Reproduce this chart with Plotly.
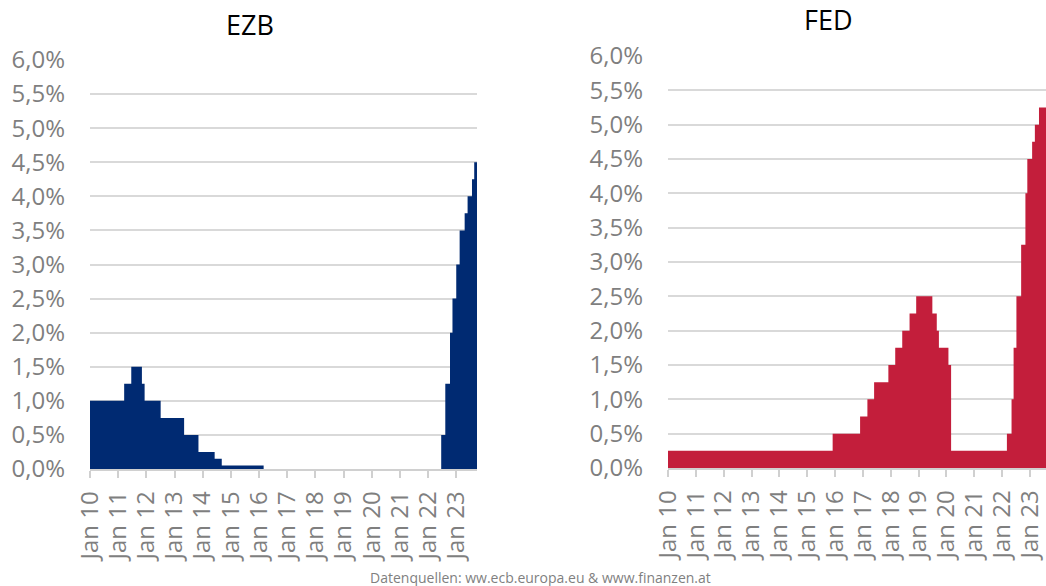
import plotly.graph_objects as go

# ---- data ----
ezb_dates = ["2010-01-01", "2011-03-20", "2011-06-20", "2011-11-05", "2011-12-10",
             "2012-07-05", "2013-05-05", "2013-11-07", "2014-06-05", "2014-09-05",
             "2016-03-01", "2022-06-20", "2022-08-12", "2022-10-12", "2022-11-13",
             "2023-01-01", "2023-02-14", "2023-04-20", "2023-05-28", "2023-07-24",
             "2023-08-22", "2023-09-27"]
ezb_rates = [1.00, 1.25, 1.50, 1.25, 1.00,
             0.75, 0.50, 0.25, 0.15, 0.05,
             0.00, 0.50, 1.25, 2.00, 2.50,
             3.00, 3.50, 3.75, 4.00, 4.25,
             4.50, 4.50]

fed_dates = ["2010-01-01", "2015-12-01", "2016-11-25", "2017-03-01", "2017-05-28",
             "2017-12-01", "2018-03-01", "2018-06-01", "2018-09-05", "2018-12-01",
             "2019-07-01", "2019-08-28", "2019-09-25", "2020-01-28", "2020-03-03",
             "2022-03-05", "2022-05-05", "2022-06-01", "2022-07-08", "2022-09-08",
             "2022-11-03", "2022-11-28", "2023-01-30", "2023-03-07", "2023-04-30",
             "2023-07-31"]
fed_rates = [0.25, 0.50, 0.75, 1.00, 1.25,
             1.50, 1.75, 2.00, 2.25, 2.50,
             2.25, 2.00, 1.75, 1.50, 0.25,
             0.50, 1.00, 1.75, 2.50, 3.25,
             4.00, 4.50, 4.75, 5.00, 5.25,
             5.25]

x_tickvals = [f"{y}-01-01" for y in range(2010, 2024)]
x_ticktext = [f"Jan {y % 100:02d}" for y in range(2010, 2024)]
y_tickvals = [i * 0.5 for i in range(13)]
y_ticktext = ["0,0%", "0,5%", "1,0%", "1,5%", "2,0%", "2,5%", "3,0%",
              "3,5%", "4,0%", "4,5%", "5,0%", "5,5%", "6,0%"]

EZB_COLOR = "#002a72"
FED_COLOR = "#c31e3b"
FONT = "Open Sans"
GRAY = "#7f7f7f"

W, H = 1046, 586

def px(x):
    return x / W

def py(y):
    return 1 - y / H

fig = go.Figure()
fig.add_trace(go.Scatter(x=ezb_dates, y=ezb_rates, mode="lines", line=dict(shape="hv", width=0, color=EZB_COLOR),
                         fill="tozeroy", fillcolor=EZB_COLOR, xaxis="x", yaxis="y", showlegend=False, hoverinfo="skip"))
fig.add_trace(go.Scatter(x=fed_dates, y=fed_rates, mode="lines", line=dict(shape="hv", width=0, color=FED_COLOR),
                         fill="tozeroy", fillcolor=FED_COLOR, xaxis="x2", yaxis="y2", showlegend=False, hoverinfo="skip"))

def xaxis(domain, rng, anchor):
    return dict(domain=domain, range=rng, anchor=anchor, type="date", automargin=False,
                tickvals=x_tickvals, ticktext=x_ticktext, tickangle=-90,
                tickfont=dict(family=FONT, size=24, color=GRAY),
                ticks="outside", ticklen=7, tickcolor="#d0d0d0", tickwidth=1.5,
                showline=True, linecolor="#d0d0d0", linewidth=1.5,
                showgrid=False, zeroline=False, ticklabelstandoff=4)

def yaxis(domain, anchor):
    return dict(domain=domain, range=[0, 6], anchor=anchor, automargin=False,
                tickvals=y_tickvals, ticktext=y_ticktext,
                tickfont=dict(family=FONT, size=24, color=GRAY),
                showgrid=True, gridcolor="#d9d9d9", gridwidth=1.5,
                zeroline=False, showline=False, ticks="", ticklabelstandoff=24)

fig.update_layout(
    width=W, height=H,
    margin=dict(l=0, r=0, t=0, b=0, autoexpand=False),
    paper_bgcolor="white", plot_bgcolor="white",
    xaxis=xaxis([px(90), px(477)], ["2010-01-01", "2023-09-27"], "y"),
    yaxis=yaxis([py(469), py(60)], "x"),
    xaxis2=xaxis([px(668), 1.0], ["2010-01-01", "2023-07-31"], "y2"),
    yaxis2=yaxis([py(468), py(56)], "x2"),
    annotations=[
        dict(text="EZB", x=px(250), y=py(25), xref="paper", yref="paper",
             showarrow=False, font=dict(family=FONT, size=27, color="black"), xanchor="center", yanchor="middle"),
        dict(text="FED", x=px(828), y=py(20), xref="paper", yref="paper",
             showarrow=False, font=dict(family=FONT, size=27, color="black"), xanchor="center", yanchor="middle"),
        dict(text="Datenquellen: ww.ecb.europa.eu &amp; www.finanzen.at", x=px(540), y=py(577),
             xref="paper", yref="paper", showarrow=False,
             font=dict(family=FONT, size=14, color=GRAY), xanchor="center", yanchor="middle"),
    ],
)

fig.write_html("out.html",
               config={"displayModeBar": False},
               post_script="document.body.style.margin='0';document.body.style.overflow='hidden';")
